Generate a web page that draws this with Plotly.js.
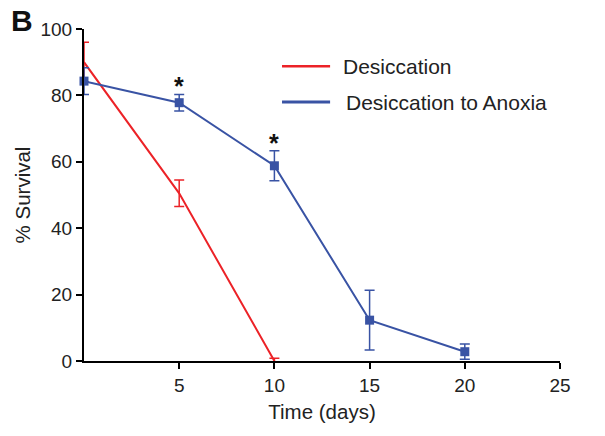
<!DOCTYPE html>
<html><head><meta charset="utf-8">
<script src="https://cdn.plot.ly/plotly-3.0.1.min.js"></script>
<style>body{margin:0;background:#fff}#c{width:605px;height:436px}</style>
</head><body><div id="c"></div>
<script>
const seriesNames = ["Desiccation", "Desiccation to Anoxia"];
const desDays = [0, 5, 10];
const desSurvival = [90, 50.5, 0];
const desErr = [6, 4, 0.8];
const anoDays = [0, 5, 10, 15, 20];
const anoSurvival = [84.3, 77.8, 58.8, 12.3, 2.8];
const anoErr = [4, 2.5, 4.5, 9, 2.3];
const starDays = [5, 10];
const xTicks = [5, 10, 15, 20, 25];
const yTicks = [0, 20, 40, 60, 80, 100];

const red = "#ec2227", blue = "#3953a4";
const font = "Liberation Sans, Arial, Helvetica, sans-serif";

const traces = [
  {x: desDays, y: desSurvival, name: seriesNames[0], mode: "lines", type: "scatter",
   line: {color: red, width: 2}, cliponaxis: false,
   error_y: {type: "data", array: desErr, visible: true, color: red, thickness: 1.5, width: 5}},
  {x: anoDays, y: anoSurvival, name: seriesNames[1], mode: "lines+markers", type: "scatter",
   line: {color: blue, width: 2}, marker: {symbol: "square", size: 9, color: blue}, cliponaxis: false,
   error_y: {type: "data", array: anoErr, visible: true, color: blue, thickness: 1.5, width: 5}}
];

const anns = starDays.map(d => {
  const i = anoDays.indexOf(d);
  return {x: d, y: anoSurvival[i] + anoErr[i], yshift: 8, text: "<b>*</b>", showarrow: false,
    font: {family: font, size: 25, color: "#111"}, xref: "x", yref: "y"};
});
anns.push({xref: "paper", yref: "paper", x: -0.158, y: 1.08, xanchor: "left", yanchor: "top",
  text: "<b>B</b>", showarrow: false, font: {family: font, size: 30, color: "#111"}});
anns.push({xref: "paper", yref: "paper", x: 0.54, y: 0.888, xanchor: "left", yanchor: "middle",
  text: seriesNames[0], showarrow: false, font: {family: font, size: 21, color: "#222"}});
anns.push({xref: "paper", yref: "paper", x: 0.546, y: 0.778, xanchor: "left", yanchor: "middle",
  text: seriesNames[1], showarrow: false, font: {family: font, size: 21, color: "#222"}});

const layout = {
  width: 605, height: 436,
  margin: {l: 84, r: 45, t: 29, b: 75},
  paper_bgcolor: "#fff", plot_bgcolor: "#fff",
  showlegend: false,
  font: {family: font, color: "#222", size: 19},
  xaxis: {range: [0, 25], tickvals: xTicks, ticks: "outside", ticklen: 6, tickwidth: 2,
    tickcolor: "#000", showline: true, linecolor: "#000", linewidth: 2, showgrid: false,
    zeroline: false, tickfont: {size: 19}, title: {text: "Time (days)", font: {size: 20.5}, standoff: 10}},
  yaxis: {range: [0, 100], tickvals: yTicks, ticks: "outside", ticklen: 6, tickwidth: 2,
    tickcolor: "#000", showline: true, linecolor: "#000", linewidth: 2, showgrid: false,
    zeroline: false, tickfont: {size: 19}, title: {text: "% Survival", font: {size: 20.5}, standoff: 4}},
  shapes: [
    {type: "line", xref: "paper", yref: "paper", x0: 0.416, x1: 0.517, y0: 0.888, y1: 0.888,
     line: {color: red, width: 2.5}},
    {type: "line", xref: "paper", yref: "paper", x0: 0.416, x1: 0.517, y0: 0.78, y1: 0.78,
     line: {color: blue, width: 3}}
  ],
  annotations: anns
};
Plotly.newPlot("c", traces, layout, {staticPlot: true});
</script></body></html>
